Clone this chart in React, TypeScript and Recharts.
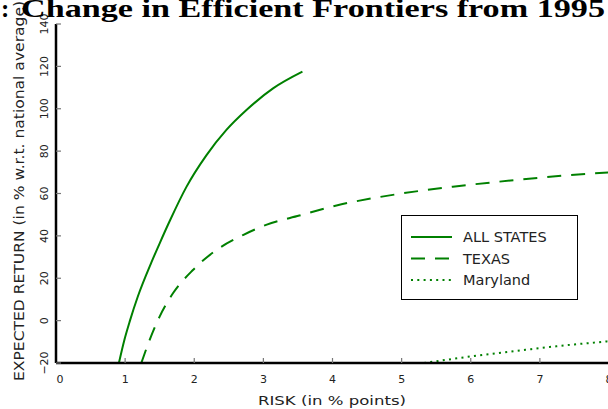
import React from 'react';
import { LineChart, Line, XAxis, YAxis, Legend, Label } from 'recharts';

const GREEN = '#008000';
const FONT = '"DejaVu Sans", sans-serif';

const xTicks = [0, 1, 2, 3, 4, 5, 6, 7, 8];
const yTicks = [-20, 0, 20, 40, 60, 80, 100, 120, 140];

// risk (x) / expected return (y)
const allStatesRisk = [0.91, 0.99, 1.07, 1.185, 1.38, 1.5, 1.645, 1.885, 2.175, 2.465, 2.755, 3.14, 3.565];
const allStatesReturn = [-20, -9, 0, 11.5, 27.5, 36.5, 47, 63, 78, 90, 99.4, 109.6, 117.5];

const texasRisk = [1.234, 1.355, 1.499, 1.692, 1.981, 2.32, 2.705, 3.04, 3.52, 4.13, 4.64, 5.21, 5.74, 6.66, 7.39, 8.0];
const texasReturn = [-20, -9.1, 1.9, 12.9, 23.9, 33.3, 40.4, 45.2, 49.6, 54.9, 58.1, 61.0, 63.2, 66.4, 68.6, 69.9];

const marylandRisk = [5.324, 6.048, 6.757, 7.385, 7.939, 8.0];
const marylandReturn = [-20, -16.7, -13.9, -11.6, -9.9, -9.7];

const zip = (xs: number[], ys: number[]) => xs.map((risk, i) => ({ risk, ret: ys[i] }));

const series = [
  { name: 'ALL STATES', data: zip(allStatesRisk, allStatesReturn), dash: undefined as string | undefined },
  { name: 'TEXAS', data: zip(texasRisk, texasReturn), dash: '14 10' },
  { name: 'Maryland', data: zip(marylandRisk, marylandReturn), dash: '2 4.3' },
];

function XTick({ x, y, payload }: any) {
  const dx = payload.value === 0 ? 4 : 0;
  return (
    <g>
      {payload.value !== 0 && <line x1={x} x2={x} y1={y} y2={y - 5} stroke="#777" strokeWidth={1.2} />}
      <text x={x + dx} y={y + 19.5} textAnchor="middle" fontFamily={FONT} fontSize={11} fill="#222">
        {payload.value}
      </text>
    </g>
  );
}

function YTick({ x, y, payload }: any) {
  const label = payload.value < 0 ? '\u2212' + Math.abs(payload.value) : String(payload.value);
  return (
    <g>
      <line x1={x} x2={x + 5} y1={y} y2={y} stroke="#777" strokeWidth={1.2} />
      <text
        transform={`translate(${x - 8},${y}) rotate(-90)`}
        textAnchor="middle"
        fontFamily={FONT}
        fontSize={11}
        fill="#222"
      >
        {label}
      </text>
    </g>
  );
}

function renderLegend() {
  return (
    <svg width={177} height={85} style={{ display: 'block' }}>
      <rect x={0.5} y={0.5} width={176} height={84} fill="#fff" stroke="#000" strokeWidth={1} />
      {series.map((s, i) => {
        const cy = 22 + i * 21.5;
        return (
          <g key={s.name}>
            <line x1={10} x2={51} y1={cy} y2={cy} stroke={GREEN} strokeWidth={2} strokeDasharray={s.dash} />
            <text x={62} y={cy + 5.3} fontFamily={FONT} fontSize={14.5} fill="#222">
              {s.name}
            </text>
          </g>
        );
      })}
    </svg>
  );
}

export default function App() {
  return (
    <div style={{ position: 'absolute', left: 0, top: 0, width: 608, height: 409, overflow: 'hidden', background: '#fff' }}>
      <LineChart width={660} height={409} margin={{ top: 24, right: 51, bottom: 0, left: 0 }}>
        <XAxis
          type="number"
          dataKey="risk"
          domain={[0, 8]}
          ticks={xTicks}
          interval={0}
          allowDataOverflow
          height={46}
          tickSize={0}
          tickMargin={0}
          tick={<XTick />}
          axisLine={{ stroke: '#000', strokeWidth: 2.5 }}
        >
          <Label
            content={() => (
              <text x={332} y={405} textAnchor="middle" fontFamily={FONT} fontSize={12} fill="#222" textLength={148} lengthAdjust="spacingAndGlyphs">
                RISK (in % points)
              </text>
            )}
          />
        </XAxis>
        <YAxis
          type="number"
          domain={[-20, 140]}
          ticks={yTicks}
          interval={0}
          allowDataOverflow
          width={56}
          tickSize={0}
          tickMargin={0}
          tick={<YTick />}
          axisLine={{ stroke: '#000', strokeWidth: 2.5 }}
        >
          <Label
            content={() => (
              <text
                transform="translate(24,191) scale(1.15,1) rotate(-90)"
                textAnchor="middle"
                fontFamily={FONT}
                fontSize={12}
                fill="#222"
                textLength={380}
                lengthAdjust="spacingAndGlyphs"
              >
                EXPECTED RETURN (in % w.r.t. national average)
              </text>
            )}
          />
        </YAxis>
        <Legend
          layout="vertical"
          align="center"
          verticalAlign="middle"
          wrapperStyle={{ left: 401, top: 215, width: 177, height: 85, margin: 0 }}
          content={renderLegend}
        />
        {series.map(s => (
          <Line
            key={s.name}
            name={s.name}
            data={s.data}
            dataKey="ret"
            type="monotone"
            stroke={GREEN}
            strokeWidth={2}
            strokeDasharray={s.dash}
            dot={false}
            activeDot={false}
            isAnimationActive={false}
          />
        ))}
      </LineChart>
      <svg width={608} height={30} style={{ position: 'absolute', left: 0, top: 0 }}>
        <text x={1} y={17} fontFamily='"Liberation Serif", serif' fontWeight="bold" fontSize={25} fill="#000">
          :
        </text>
        <text x={21} y={17} fontFamily='"Liberation Serif", serif' fontWeight="bold" fontSize={25} fill="#000" textLength={584} lengthAdjust="spacingAndGlyphs">
          Change in Efficient Frontiers from 1995
        </text>
      </svg>
    </div>
  );
}
